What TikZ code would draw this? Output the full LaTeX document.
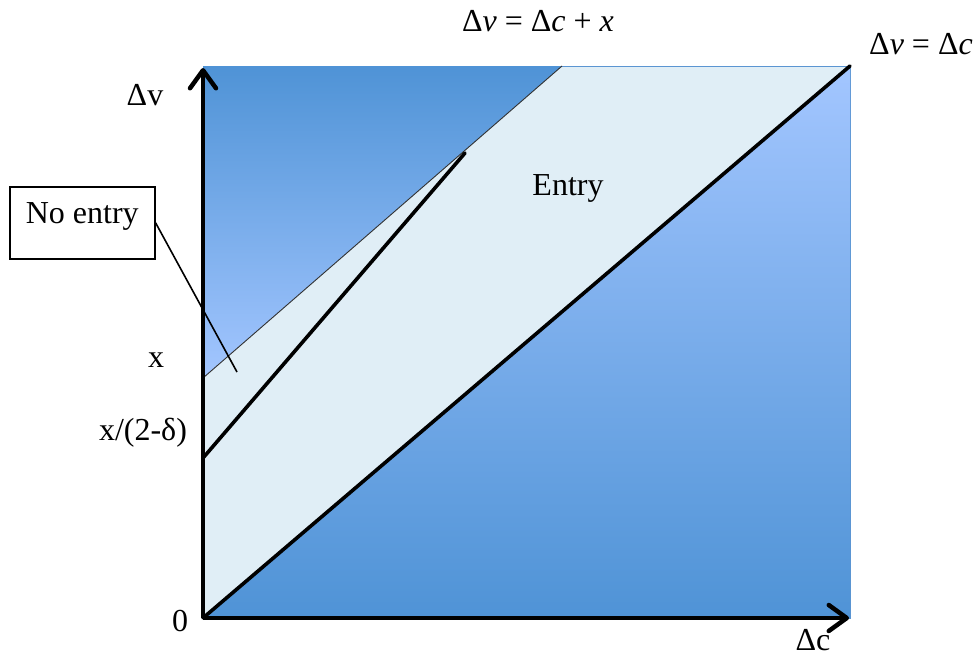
\documentclass[tikz,border=0pt]{standalone}
\usepackage{fontspec}
\setmainfont{Liberation Serif}
\usetikzlibrary{arrows.meta, positioning, calc}
\definecolor{cdark}{HTML}{4F93D6}
\definecolor{clight}{HTML}{A3C6FF}
\definecolor{cpale}{HTML}{E0EEF6}
\definecolor{cedge}{HTML}{5B95D2}
\tikzset{
  lbl/.style={font=\fontsize{32}{37}\selectfont, inner sep=0pt},
  axis/.style={line width=4.5pt, -{Straight Barb[length=18pt, width=26pt, round]}},
  bound/.style={line width=3.6pt, line cap=round},
  callout/.style={draw, line width=1.6pt, font=\fontsize{32}{37}\selectfont,
    minimum width=145pt, inner ysep=7pt, text height=30pt, text depth=28pt},
}

\begin{document}
\begin{tikzpicture}[x=1pt, y=-1pt]
  \useasboundingbox (0,0) rectangle (973,659);
  \coordinate (O) at (203,618);
  \coordinate (tl) at (203,66);
  \coordinate (tr) at (850,66);
  \coordinate (br) at (850,618);
  \coordinate (xa) at (203,378);
  \coordinate (xb) at (562,66);
  \coordinate (xd) at (203,458);
  \coordinate (xe) at (465,153);
  \coordinate (vtip) at (203,68);
  \coordinate (ctip) at (849,618);
  \coordinate (ptr) at (237,372);

  % regions
  \fill[cpale, draw=cedge, line width=1pt] (tl) rectangle (br);
  \shade[top color=cdark, bottom color=clight] (tl) -- (xb) -- (xa) -- cycle;
  \shade[top color=clight, bottom color=cdark] (O) -- (tr) -- (br) -- cycle;
  \draw[line width=0.9pt, black!80] (xa) -- (xb);

  \draw[bound] (O) -- (tr);
  \draw[bound] (xd) -- (xe);
  \draw[axis] (O) -- (vtip);
  \draw[axis] (O) -- (ctip);

  \node[lbl] (eqa) at (538,21) {Δ\textit{v} = Δ\textit{c} + \textit{x}};
  \node[lbl] (eqb) at (921,44) {Δ\textit{v} = Δ\textit{c}};
  \node[lbl] (dv) at (145,95) {Δv};
  \node[lbl] (dc) at (813,640) {Δc};
  \node[lbl] (zero) at (180,621) {0};
  \node[lbl] (lx) at (156,360) {x};
  \node[lbl] (lxd) at (143,433) {x/(2-δ)};
  \node[lbl] (entry) at (568,188) {Entry};

  \node[callout, anchor=north west] (noentry) at (9,186) {No entry};
  \draw[line width=1.6pt] (noentry.east) -- (ptr);
\end{tikzpicture}
\end{document}
